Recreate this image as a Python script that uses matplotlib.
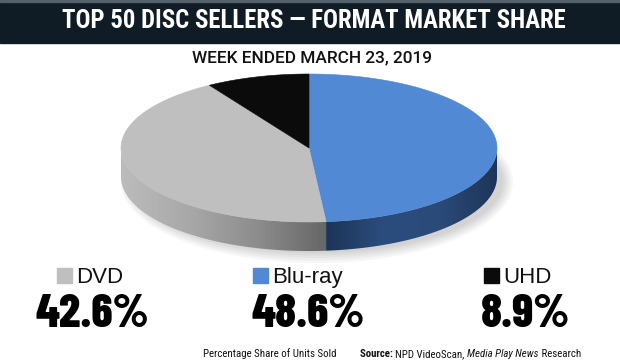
import matplotlib
matplotlib.use("Agg")
import matplotlib.pyplot as plt
import numpy as np
from matplotlib.patches import Polygon, Rectangle, Ellipse
from matplotlib.colors import LinearSegmentedColormap

# chart data
title = "TOP 50 DISC SELLERS \u2014 FORMAT MARKET SHARE"
subtitle = "WEEK ENDED MARCH 23, 2019"
formats = ["Blu-ray", "DVD", "UHD"]          # clockwise from 12 o'clock
shares = [48.6, 42.6, 8.9]
legend_order = ["DVD", "Blu-ray", "UHD"]
footer_left = "Percentage Share of Units Sold"
source_parts = [("Source: ", "bold", "normal"), ("NPD VideoScan, ", "normal", "normal"),
                ("Media Play News", "normal", "italic"), (" Research", "normal", "normal")]

top_colors = {"Blu-ray": "#5189d5", "DVD": "#bfbfbf", "UHD": "#0b0b0b"}
side_colors = {"Blu-ray": ["#1c3456", "#2b4d7e", "#2a4a79", "#1e3558"],
               "DVD": ["#bcbcbc", "#a8a8a8", "#8c8c8c", "#666666"],
               "UHD": ["#000000", "#000000"]}

COND = ["Roboto Condensed", "DejaVu Sans"]
HEAVY = ["Barlow Condensed", "Roboto Condensed", "DejaVu Sans"]
PLAIN = ["Liberation Sans", "DejaVu Sans"]

fig = plt.figure(figsize=(6.2, 3.62), dpi=100)
ax = fig.add_axes([0, 0, 1, 1])
ax.set_xlim(0, 620)
ax.set_ylim(362, 0)
ax.axis("off")

# header bar
ax.add_patch(Rectangle((0, 0), 620, 43, color="#101c25", zorder=1))
ax.add_patch(Rectangle((0, 0), 620, 1.5, color="#56606a", zorder=1))
ax.text(314, 28.5, title, color="white", fontsize=17.8, fontweight="bold",
        family=COND, ha="center", va="baseline", zorder=2)
ax.text(312, 62, subtitle, color="#111111", fontsize=12.4, fontweight="medium",
        family=["Roboto", "DejaVu Sans"], ha="center", va="baseline")

# 3d pie
cx, cy, rx, ry, depth = 309, 148, 188, 74, 29


def arc(t0, t1, dy=0, n=120):
    t = np.radians(np.linspace(t0, t1, n))
    return np.column_stack([cx + rx * np.cos(t), cy - ry * np.sin(t) + dy])


# soft shadow
for i in range(5):
    ax.add_patch(Ellipse((cx + 8, cy + depth + 5), 2 * rx + 16 - 5 * i,
                         2 * ry + 14 - 5 * i, color="#000000", alpha=0.035,
                         lw=0, zorder=2))

total = sum(shares)
start = 90.0
spans = []
for name, s in zip(formats, shares):
    span = s / total * 360
    spans.append((name, start, start - span))
    start -= span

# side walls (front half only)
for name, t0, t1 in spans:
    for k in (0, -360):
        a = max(t1, -180 + k)
        b = min(t0, 0 + k)
        if a >= b:
            continue
        pts = np.vstack([arc(b, a), arc(a, b, depth)])
        poly = Polygon(pts, closed=True, facecolor="none", edgecolor="none", zorder=3)
        ax.add_patch(poly)
        xs = pts[:, 0]
        cmap = LinearSegmentedColormap.from_list(name, side_colors[name])
        grad = np.linspace(0, 1, 256).reshape(1, -1)
        im = ax.imshow(grad, cmap=cmap, aspect="auto", zorder=3,
                       extent=(xs.min(), xs.max(), pts[:, 1].max(), pts[:, 1].min()))
        im.set_clip_path(poly)

# top faces
for name, t0, t1 in spans:
    pts = np.vstack([[cx, cy], arc(t0, t1)])
    ax.add_patch(Polygon(pts, closed=True, facecolor=top_colors[name],
                         edgecolor=top_colors[name], lw=0.4, zorder=4))

ax.set_xlim(0, 620)
ax.set_ylim(362, 0)

# legend with big numbers
share_of = dict(zip(formats, shares))
square_x = [57, 253, 484]
number_cx = [92, 308, 525]
for name, sx, ncx in zip(legend_order, square_x, number_cx):
    ax.add_patch(Rectangle((sx, 268), 15, 15, color=top_colors[name], zorder=5))
    ax.text(sx + 19, 283, name, fontsize=16, family=PLAIN, color="#111111",
            ha="left", va="baseline")
    ax.text(ncx, 327, f"{share_of[name]:.1f}%", fontsize=34, fontweight=800,
            family=HEAVY, color="#000000", ha="center", va="baseline")

# footer
ax.text(203, 357, footer_left, fontsize=7.8, family=COND, color="#111111",
        ha="left", va="baseline")
fig.canvas.draw()
renderer = fig.canvas.get_renderer()
x = 360
for txt, weight, style in source_parts:
    t = ax.text(x, 357, txt, fontsize=7.8, family=COND, color="#111111",
                fontweight=weight, fontstyle=style, ha="left", va="baseline")
    bb = t.get_window_extent(renderer)
    x = ax.transData.inverted().transform((bb.x1, bb.y0))[0]

fig.savefig("out.png", dpi=100, facecolor="white")
